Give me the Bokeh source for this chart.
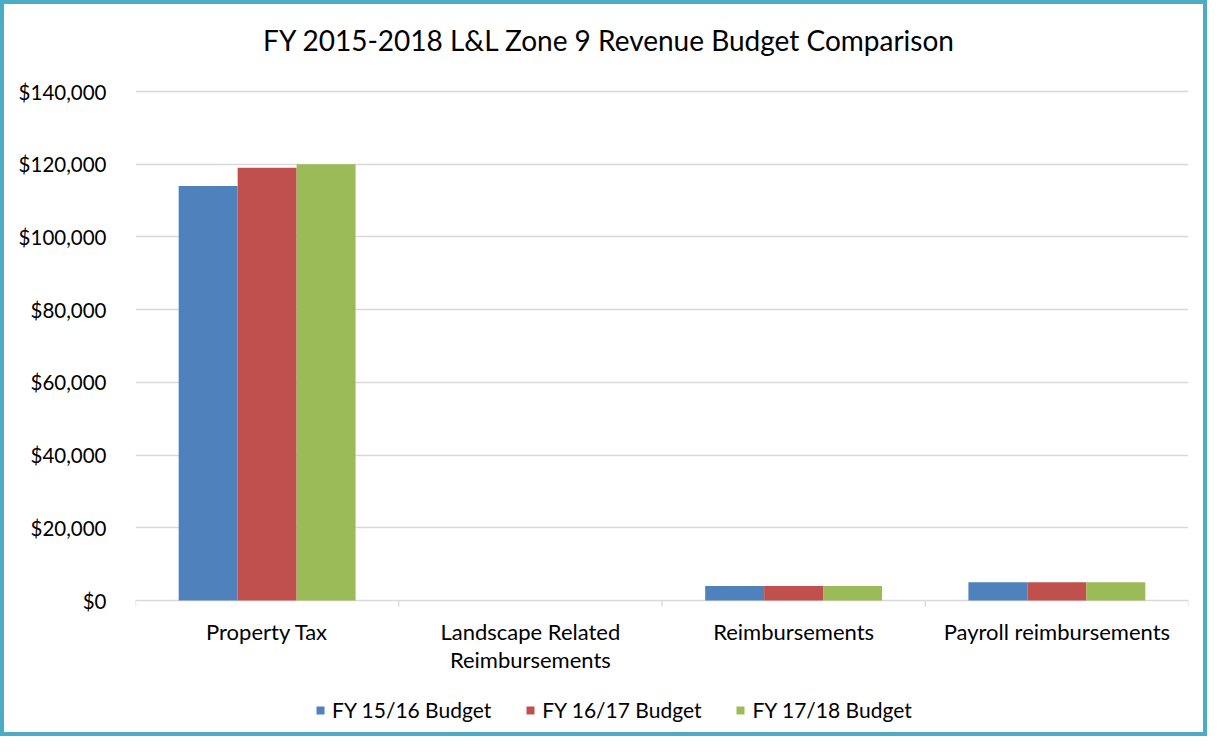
from bokeh.plotting import figure
from bokeh.models import (ColumnDataSource, Range1d, FixedTicker, NumeralTickFormatter,
                          Legend, LegendItem, Label)
from bokeh.core.properties import value
from bokeh.embed import file_html
from bokeh.resources import INLINE

# ---- data ----
categories = ["Property Tax", "Landscape Related\nReimbursements", "Reimbursements", "Payroll reimbursements"]
series = ["FY 15/16 Budget", "FY 16/17 Budget", "FY 17/18 Budget"]
fy1516 = [114000, 0, 4000, 5000]
fy1617 = [119000, 0, 4000, 5000]
fy1718 = [120000, 0, 4000, 5000]
y_ticks = [0, 20000, 40000, 60000, 80000, 100000, 120000, 140000]
title_text = "FY 2015-2018 L&L Zone 9 Revenue Budget Comparison"

colors = ["#4F81BD", "#C0504D", "#9BBB59"]
GRID = "#d9d9d9"
FONT = "Lato"
n = len(categories)
centers = [i + 0.5 for i in range(n)]
bounds = list(range(n + 1))
bw = 0.224

# ---- layout (pixels inside the canvas) ----
W, H = 1207, 736
BORDER = 4
canvas_h = H
top_px, bot_px = 87, 596          # where the top tick and zero line sit
upp = y_ticks[-1] / (bot_px - top_px)   # data units per pixel
y_start = -(canvas_h - bot_px) * upp
y_end = y_ticks[-1] + top_px * upp

p = figure(x_range=Range1d(0, n), y_range=Range1d(y_start, y_end),
           width=W, height=H, output_backend="svg", toolbar_location=None,
           x_axis_location=None, title=None,
           min_border_left=131, min_border_right=23, min_border_top=0, min_border_bottom=0)
p.styles = {"border": f"{BORDER}px solid #4BACC6", "box-sizing": "border-box"}
p.outline_line_color = None
p.background_fill_color = "white"
p.border_fill_color = "white"

# y axis
ya = p.yaxis[0]
ya.ticker = FixedTicker(ticks=y_ticks)
ya.formatter = NumeralTickFormatter(format="$0,0")
ya.axis_line_color = None
ya.major_tick_line_color = None
ya.minor_tick_line_color = None
ya.major_label_text_font = FONT
ya.major_label_text_font_size = "20.5px"
ya.major_label_text_color = "#000000"
ya.major_label_standoff = 23
for g in p.grid:
    if g.dimension == 0:
        g.visible = False
    else:
        g.grid_line_color = GRID
        g.grid_line_width = 1.3
        g.ticker = FixedTicker(ticks=y_ticks)

# category boundary ticks below the zero line
p.segment(x0=bounds, y0=[0] * len(bounds), x1=bounds, y1=[-6 * upp] * len(bounds),
          line_color=GRID, line_width=1.3)

# category labels
p.text(x=centers, y=[0] * n, text=categories, y_offset=17,
       text_align="center", text_baseline="top", text_line_height=1.06,
       text_font=value(FONT), text_font_size="22px", text_color="#000000")

renderers = []
for k, vals in enumerate([fy1516, fy1617, fy1718]):
    xs = [c + (k - 1) * bw for c in centers]
    src = ColumnDataSource(dict(x=xs, top=vals))
    r = p.vbar(x="x", top="top", width=bw, source=src, fill_color=colors[k], line_color=None)
    renderers.append(r)

legend = Legend(items=[LegendItem(label=series[i], renderers=[renderers[i]]) for i in range(3)],
                orientation="horizontal", location=(180, 18),
                padding=0, margin=0, spacing=34, label_standoff=7,
                glyph_width=10, glyph_height=10,
                label_text_font=FONT, label_text_font_size="21px", label_text_color="#000000",
                border_line_color=None, background_fill_alpha=0)
p.add_layout(legend, "center")

title = Label(x=474, y=canvas_h - 35, x_units="screen", y_units="screen", text=title_text,
              text_align="center", text_baseline="middle",
              text_font=FONT, text_font_size="28px", text_color="#000000")
p.add_layout(title)

open("out.html", "w").write(file_html(p, INLINE))
